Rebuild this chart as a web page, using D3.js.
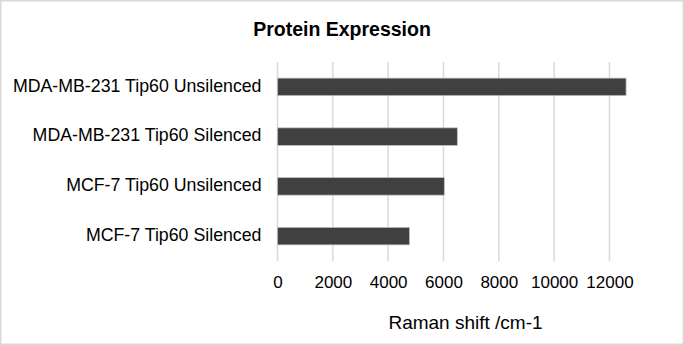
<!DOCTYPE html>
<html>
<head>
<meta charset="utf-8">
<script src="https://cdn.jsdelivr.net/npm/d3@7"></script>
<style>
  body { margin: 0; background: #fff; }
  svg { display: block; font-family: 'Liberation Sans', Arial, sans-serif; }
</style>
</head>
<body>
<div id="container"></div>
<script>
'use strict';

const categories = [
    'MDA-MB-231 Tip60 Unsilenced',
    'MDA-MB-231 Tip60 Silenced',
    'MCF-7 Tip60 Unsilenced',
    'MCF-7 Tip60 Silenced'
];
const values = [12600, 6500, 6030, 4770];
const xTicks = [0, 2000, 4000, 6000, 8000, 10000, 12000];

const w = 684;
const h = 345;

const svg = d3.select('#container')
                .append('svg')
                .attr('width', w)
                .attr('height', h);

// outer frame
svg.append('rect')
    .attr('x', 0.75)
    .attr('y', 0.75)
    .attr('width', w - 1.5)
    .attr('height', h - 1.5)
    .attr('fill', '#fff')
    .attr('stroke', '#d9d9d9')
    .attr('stroke-width', 1.5);

svg.append('text')
    .text('Protein Expression')
    .attr('x', 342)
    .attr('y', 35.7)
    .attr('text-anchor', 'middle')
    .attr('font-weight', 'bold')
    .attr('font-size', '19.5px')
    .attr('fill', '#000');

const xScale = d3.scaleLinear()
                    .domain([0, 14000])
                    .range([277.5, 664.8]);
const yScale = d3.scaleBand()
                    .domain(categories)
                    .range([62, 261])
                    .paddingInner(0.648)
                    .paddingOuter(0.324);

// gridlines
svg.append('g')
    .selectAll('line')
    .data(xTicks)
    .enter()
    .append('line')
    .attr('x1', (d) => xScale(d))
    .attr('x2', (d) => xScale(d))
    .attr('y1', 62)
    .attr('y2', 261)
    .attr('stroke', '#d9d9d9')
    .attr('stroke-width', 1.5);

svg.append('g')
    .selectAll('rect')
    .data(values)
    .enter()
    .append('rect')
    .attr('x', xScale(0))
    .attr('y', (d, i) => yScale(categories[i]))
    .attr('width', (d) => xScale(d) - xScale(0))
    .attr('height', yScale.bandwidth())
    .attr('fill', '#404040')
    .attr('stroke', '#bfbfbf')
    .attr('stroke-width', 0.75);

// category labels
svg.append('g')
    .selectAll('text')
    .data(categories)
    .enter()
    .append('text')
    .text((d) => d)
    .attr('x', 261.5)
    .attr('y', (d) => yScale(d) + yScale.bandwidth() / 2)
    .attr('dy', '0.27em')
    .attr('text-anchor', 'end')
    .attr('font-size', '17.75px')
    .attr('fill', '#000');

const xAxis = d3.axisBottom(xScale)
                .tickValues(xTicks)
                .tickSize(0)
                .tickPadding(0)
                .tickFormat(d3.format('d'));

const gx = svg.append('g')
    .attr('id', 'x-axis')
    .attr('transform', 'translate(0, 261)')
    .call(xAxis);
gx.select('.domain').remove();
gx.selectAll('text')
    .attr('dy', null)
    .attr('y', 27)
    .attr('font-size', '17px')
    .attr('font-family', "'Liberation Sans', Arial, sans-serif")
    .attr('fill', '#000');

svg.append('text')
    .text('Raman shift /cm-1')
    .attr('x', 465.5)
    .attr('y', 329)
    .attr('text-anchor', 'middle')
    .attr('font-size', '19px')
    .attr('fill', '#000');
</script>
</body>
</html>
